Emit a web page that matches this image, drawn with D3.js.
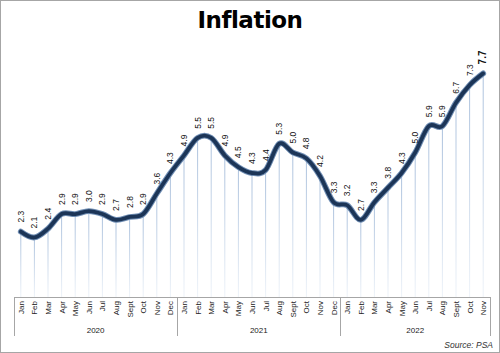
<!DOCTYPE html>
<html>
<head>
<meta charset="utf-8">
<script src="https://cdn.jsdelivr.net/npm/d3@7"></script>
<style>
	body { margin: 0; background: #fff; }
	svg text { font-family: "Liberation Sans", Arial, sans-serif; }
</style>
</head>
<body>
<div class="chart"></div>
<script>
var years = ["2020", "2021", "2022"];
var months = ["Jan", "Feb", "Mar", "Apr", "May", "Jun", "Jul", "Aug", "Sept", "Oct", "Nov", "Dec"];
var rate_2020 = [2.3, 2.1, 2.4, 2.9, 2.9, 3.0, 2.9, 2.7, 2.8, 2.9, 3.6, 4.3];
var rate_2021 = [4.9, 5.5, 5.5, 4.9, 4.5, 4.3, 4.4, 5.3, 5.0, 4.8, 4.2, 3.3];
var rate_2022 = [3.2, 2.7, 3.3, 3.8, 4.3, 5.0, 5.9, 5.9, 6.7, 7.3, 7.7];

var width = 500, height = 353;
var margin = {left: 14, right: 10, top: 40, bottom: 56};

// build the data
var data = [];
[rate_2020, rate_2021, rate_2022].forEach(function(arr, yi){
	arr.forEach(function(v, mi){
		data.push({id: years[yi] + "-" + mi, year: years[yi], month: months[mi], value: v});
	});
});

var svg = d3.select(".chart").append("svg")
	.attr("width", width)
	.attr("height", height);

// outer frame
svg.append("rect")
	.attr("x", 0.5).attr("y", 0.5)
	.attr("width", width - 1).attr("height", height - 1)
	.style("fill", "#fff")
	.style("stroke", "#a6a6a6");

svg.append("text")
	.attr("x", width / 2)
	.attr("y", 28)
	.attr("text-anchor", "middle")
	.style("font-size", "23px")
	.style("font-weight", "900")
	.style("font-family", "'DejaVu Sans', sans-serif")
	.style("letter-spacing", "-0.5px")
	.text("Inflation");

var axis_y = height - margin.bottom; // 297

var x = d3.scaleBand()
	.domain(data.map(function(d){ return d.id; }))
	.range([margin.left, width - margin.right]);

var y = d3.scaleLinear()
	.domain([0, 8])
	.range([axis_y + 2, axis_y + 2 - 8 * 29.3]);

var cx = function(d){ return x(d.id) + x.bandwidth() / 2; };

// gradient for drop lines
var grad = svg.append("defs").append("linearGradient")
	.attr("id", "drop")
	.attr("x1", 0).attr("y1", 0).attr("x2", 0).attr("y2", 1);
grad.append("stop").attr("offset", "0%").attr("stop-color", "#aac0dc");
grad.append("stop").attr("offset", "100%").attr("stop-color", "#eef3f9");

svg.selectAll(".drop")
	.data(data)
	.enter().append("rect")
		.attr("class", "drop")
		.attr("x", function(d){ return cx(d) - 0.5; })
		.attr("y", function(d){ return y(d.value); })
		.attr("width", 1)
		.attr("height", function(d){ return axis_y - y(d.value); })
		.style("fill", "url(#drop)");

// x axis
svg.append("line")
	.attr("x1", margin.left).attr("x2", width - margin.right)
	.attr("y1", axis_y + 0.5).attr("y2", axis_y + 0.5)
	.style("stroke", "#a6a6a6");

// year dividers
var year_bounds = years.map(function(yr){
	var ds = data.filter(function(d){ return d.year == yr; });
	return {year: yr, x0: x(ds[0].id), x1: x(ds[ds.length - 1].id) + x.bandwidth()};
});

var dividers = year_bounds.map(function(b){ return b.x0; }).concat([year_bounds[2].x1]);
svg.selectAll(".divider")
	.data(dividers)
	.enter().append("line")
		.attr("class", "divider")
		.attr("x1", function(d){ return Math.round(d) + 0.5; })
		.attr("x2", function(d){ return Math.round(d) + 0.5; })
		.attr("y1", axis_y)
		.attr("y2", axis_y + 39)
		.style("stroke", "#a6a6a6");

svg.selectAll(".month")
	.data(data)
	.enter().append("text")
		.attr("class", "month")
		.attr("transform", function(d){ return "translate(" + (cx(d) + 3) + "," + (axis_y + 4) + ") rotate(-90)"; })
		.attr("text-anchor", "end")
		.style("font-size", "8px")
		.style("fill", "#222")
		.text(function(d){ return d.month; });

svg.selectAll(".year")
	.data(year_bounds)
	.enter().append("text")
		.attr("class", "year")
		.attr("x", function(d){ return (d.x0 + d.x1) / 2; })
		.attr("y", axis_y + 36)
		.attr("text-anchor", "middle")
		.style("font-size", "8px")
		.style("fill", "#222")
		.text(function(d){ return d.year; });

// smoothed line, like a spreadsheet's smooth line
var line = d3.line()
	.x(cx)
	.y(function(d){ return y(d.value); })
	.curve(d3.curveCardinal.tension(0));

svg.append("path")
	.datum(data)
	.attr("d", line)
	.style("fill", "none")
	.style("stroke", "#6f8db3")
	.style("stroke-width", 5.8)
	.style("stroke-linecap", "round");

svg.append("path")
	.datum(data)
	.attr("d", line)
	.style("fill", "none")
	.style("stroke", "#1c3557")
	.style("stroke-width", 3.8)
	.style("stroke-linecap", "round");

// value labels
svg.selectAll(".value")
	.data(data)
	.enter().append("text")
		.attr("class", "value")
		.attr("transform", function(d){ return "translate(" + (cx(d) + 3) + "," + (y(d.value) - 9) + ") rotate(-90)"; })
		.attr("text-anchor", "start")
		.style("font-size", function(d, i){ return i == data.length - 1 ? "10px" : "8.5px"; })
		.style("font-weight", function(d, i){ return i == data.length - 1 ? "bold" : "normal"; })
		.style("fill", "#111")
		.text(function(d){ return d3.format(".1f")(d.value); });

svg.append("text")
	.attr("x", width - 7)
	.attr("y", height - 5)
	.attr("text-anchor", "end")
	.style("font-size", "8.5px")
	.style("font-style", "italic")
	.style("fill", "#333")
	.text("Source: PSA");
</script>
</body>
</html>
